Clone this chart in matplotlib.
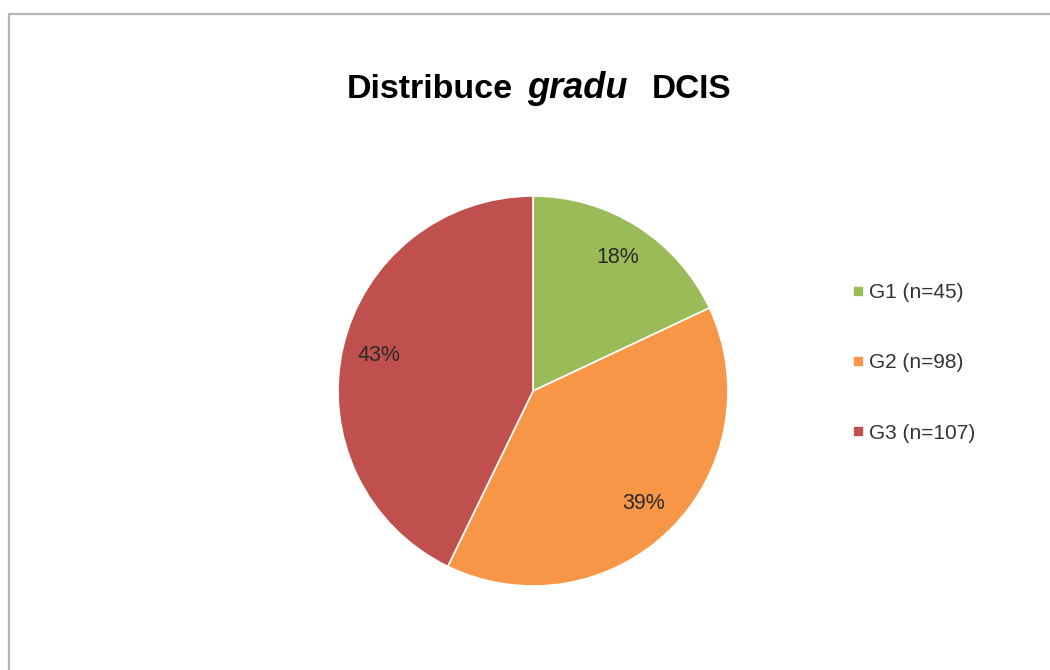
import matplotlib.pyplot as plt
from matplotlib.patches import Rectangle
from matplotlib.lines import Line2D

# Datos de la gráfica
grados = ["G1", "G2", "G3"]
pacientes = [45, 98, 107]
colores = ["#9BBB59", "#F79646", "#C0504D"]

plt.rcParams['font.family'] = ['Liberation Sans', 'DejaVu Sans']

W, H = 1050, 670
fig = plt.figure(figsize=(W / 100, H / 100), dpi=100)
fig.patch.set_facecolor("white")

# Marco gris del gráfico (se sale por la derecha y por abajo)
marco = Rectangle((9 / W, -0.05), 1.1, (H - 14) / H + 0.05,
                  transform=fig.transFigure, fill=False,
                  edgecolor="#b4b4b4", linewidth=1.6)
fig.patches.append(marco)

# Título con "gradu" en cursiva, palabra por palabra
y_tit = (H - 98) / H
fig.text(347 / W, y_tit, "Distribuce", fontsize=24.5, fontweight="bold", ha="left", va="baseline")
fig.text(527 / W, y_tit, "gradu", fontsize=26, fontweight="bold", style="italic", ha="left", va="baseline")
fig.text(652 / W, y_tit, "DCIS", fontsize=24, fontweight="bold", ha="left", va="baseline")

# Pastel
r = 195
cx, cy = 533, 391
ax = fig.add_axes([(cx - r) / W, (H - cy - r) / H, 2 * r / W, 2 * r / H])
ax.pie(pacientes, colors=colores, startangle=90, counterclock=False,
       autopct=lambda p: f"{p:.0f}%", pctdistance=0.81,
       wedgeprops=dict(edgecolor="white", linewidth=1.2),
       textprops=dict(fontsize=15.5, color="#2a2a2a"))
ax.set_xlim(-1, 1)
ax.set_ylim(-1, 1)
ax.set_aspect("auto")
ax.axis("off")

# Leyenda
etiquetas = [f"{g} (n={n})" for g, n in zip(grados, pacientes)]
manijas = [Line2D([], [], marker="s", linestyle="", markersize=6,
                  markerfacecolor=c, markeredgecolor=c) for c in colores]
fig.legend(manijas, etiquetas, loc="center left", bbox_to_anchor=(840 / W, (H - 363) / H),
           frameon=False, fontsize=15, labelspacing=2.45, handlelength=0.7,
           handletextpad=0.2, borderpad=0, labelcolor="#333333")

fig.savefig("out.png", dpi=100)
